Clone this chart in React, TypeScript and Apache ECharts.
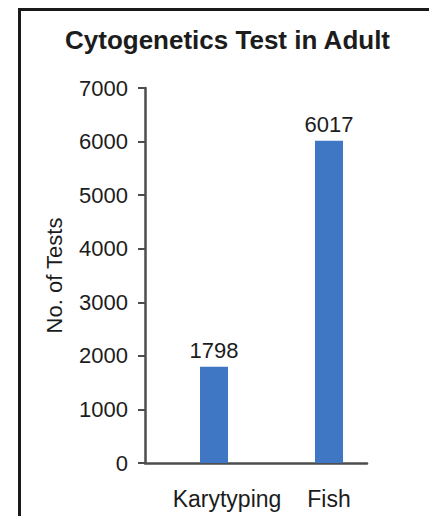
import React, { useEffect, useRef } from "react";
import * as echarts from "echarts";

const categories = ["Karytyping", "Fish"];
const values = [1798, 6017];
const yTicks = [0, 1000, 2000, 3000, 4000, 5000, 6000, 7000];
const titleText = "Cytogenetics Test in Adult";
const yName = "No. of Tests";

const FONT = "'Liberation Sans', Arial, Helvetica, sans-serif";
const TEXT = "#1c1c1c";
const AXIS = "#4d4d4d";
const BAR = "#3f77c4";

export default function App() {
  const ref = useRef<HTMLDivElement>(null);
  useEffect(() => {
    document.body.style.margin = "0";
    const chart = echarts.init(ref.current!, null, { renderer: "svg" });
    const yMin = yTicks[0];
    const yMax = yTicks[yTicks.length - 1];
    const yInterval = yTicks[1] - yTicks[0];
    chart.setOption({
      animation: false,
      backgroundColor: "#ffffff",
      title: {
        text: titleText,
        left: 60,
        top: 22,
        textStyle: { fontFamily: FONT, fontSize: 26, fontWeight: "bold", color: TEXT },
      },
      graphic: [
        {
          type: "rect",
          shape: { x: 19.5, y: 9.5, width: 600, height: 700 },
          style: { fill: "none", stroke: "#1a1a1a", lineWidth: 3 },
          silent: true,
        },
      ],
      grid: [
        { left: 156.5, right: 42.5, top: 88, bottom: 53 },
        { left: 145, right: 62, top: 88, bottom: 53 },
      ],
      xAxis: [
        {
          type: "category",
          gridIndex: 0,
          data: categories,
          axisLine: { show: false },
          axisTick: { show: false },
          axisLabel: {
            interval: 0,
            hideOverlap: false,
            margin: 24,
            fontFamily: FONT,
            fontSize: 23,
            color: TEXT,
            formatter: (v: string, i: number) => (i === 0 ? "{a|" + v + "}" : "{b|" + v + "}"),
            rich: {
              a: { fontFamily: FONT, fontSize: 23, color: TEXT, padding: [0, 0, 0, 26] },
              b: { fontFamily: FONT, fontSize: 23, color: TEXT },
            },
          },
        },
        {
          type: "category",
          gridIndex: 1,
          data: categories,
          axisLine: { show: true, lineStyle: { color: AXIS, width: 2.5 } },
          axisTick: { show: false },
          axisLabel: { show: false },
        },
      ],
      yAxis: [
        {
          type: "value",
          gridIndex: 0,
          min: yMin,
          max: yMax,
          interval: yInterval,
          show: false,
          splitLine: { show: false },
        },
        {
          type: "value",
          gridIndex: 1,
          min: yMin,
          max: yMax,
          interval: yInterval,
          name: yName,
          nameLocation: "middle",
          nameGap: 80,
          nameTextStyle: { fontFamily: FONT, fontSize: 22, color: TEXT },
          axisLine: { show: true, lineStyle: { color: AXIS, width: 2.5 } },
          axisTick: { show: true, length: 7, lineStyle: { color: AXIS, width: 2 } },
          axisLabel: {
            margin: 17,
            fontFamily: FONT,
            fontSize: 22,
            color: TEXT,
            formatter: (v: number) => String(v),
          },
          splitLine: { show: false },
        },
      ],
      series: [
        {
          type: "bar",
          xAxisIndex: 0,
          yAxisIndex: 0,
          data: values,
          barWidth: 28,
          itemStyle: { color: BAR },
          label: {
            show: true,
            position: "top",
            distance: 5,
            fontFamily: FONT,
            fontSize: 22,
            color: TEXT,
          },
        },
      ],
    });
    return () => chart.dispose();
  }, []);
  return (
    <div
      ref={ref}
      style={{ position: "fixed", left: 0, top: 0, width: 429, height: 516 }}
    />
  );
}
